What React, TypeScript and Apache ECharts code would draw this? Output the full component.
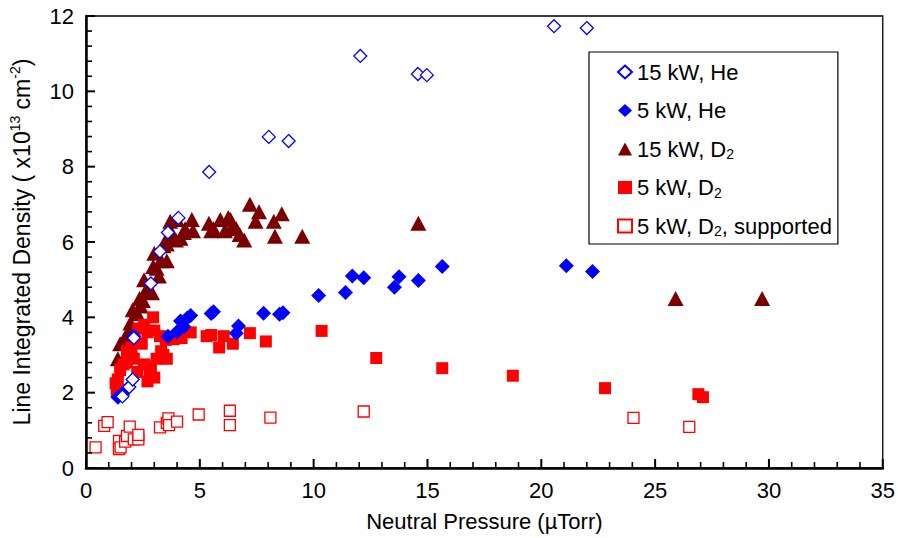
import React, { useEffect, useRef } from "react";
import * as echarts from "echarts";

const xTicks = { min: 0, max: 35, interval: 5, minorSplit: 5 };
const yTicks = { min: 0, max: 12, interval: 2, minorSplit: 5 };

const seriesNames = [
  "15 kW, He",
  "5 kW, He",
  "15 kW, D2",
  "5 kW, D2",
  "5 kW, D2, supported",
];

const he15: number[][] = [
  [1.6, 1.9], [1.9, 2.15], [2.05, 2.35], [2.1, 3.45], [2.85, 4.9], [3.25, 5.75],
  [3.6, 6.25], [4.06, 6.64], [5.41, 7.86], [8.03, 8.79], [8.9, 8.68], [12.05, 10.94],
  [14.58, 10.46], [14.97, 10.43], [20.56, 11.73], [22.0, 11.68],
];

const he5: number[][] = [
  [1.4, 1.88], [1.6, 1.95], [1.8, 2.1], [2.1, 3.5], [3.6, 3.5], [4.0, 3.62],
  [4.15, 3.9], [4.3, 3.75], [4.45, 3.98], [4.6, 4.05], [5.5, 4.1], [5.6, 4.15],
  [6.6, 3.58], [6.7, 3.77], [7.8, 4.11], [8.5, 4.08], [8.65, 4.12], [10.22, 4.58],
  [11.4, 4.66], [11.7, 5.1], [12.2, 5.05], [13.55, 4.8], [13.75, 5.08], [14.6, 4.98],
  [15.65, 5.35], [21.1, 5.37], [22.25, 5.22],
];

const d15: number[][] = [
  [1.4, 2.9], [1.5, 3.3], [1.7, 3.45], [1.8, 3.4], [1.9, 3.65], [1.95, 3.85],
  [2.05, 4.2], [2.25, 4.1], [2.4, 4.3], [2.35, 4.5], [2.5, 4.45], [2.55, 5.0],
  [2.7, 4.8], [2.75, 4.7], [2.9, 4.65], [2.95, 5.35], [3.0, 5.7], [3.1, 5.3],
  [3.2, 5.1], [3.3, 5.5], [3.4, 5.9], [3.55, 5.5], [3.55, 5.95], [3.55, 6.1],
  [3.7, 6.55], [3.75, 6.25], [3.95, 6.05], [4.0, 6.6], [4.15, 6.1], [4.3, 6.25],
  [4.35, 6.35], [4.65, 6.6], [4.7, 6.3], [5.4, 6.5], [5.5, 6.3], [5.6, 6.35],
  [5.9, 6.6], [6.1, 6.3], [6.25, 6.65], [6.35, 6.6], [6.4, 6.4], [6.6, 6.35],
  [6.75, 6.2], [6.95, 6.05], [7.2, 7.0], [7.45, 6.55], [7.6, 6.8], [8.25, 6.55],
  [8.3, 6.15], [8.6, 6.75], [9.5, 6.15], [14.6, 6.5], [25.9, 4.5], [29.7, 4.5],
];

const d5: number[][] = [
  [1.3, 2.25], [1.35, 2.05], [1.4, 2.35], [1.5, 2.6], [1.65, 2.75], [1.8, 2.8],
  [1.8, 3.1], [2.0, 3.2], [2.1, 2.9], [2.25, 2.55], [2.3, 3.7], [2.45, 3.3],
  [2.55, 2.75], [2.55, 3.8], [2.7, 3.6], [2.7, 2.3], [2.8, 2.6], [2.85, 2.7],
  [2.95, 4.0], [3.0, 3.65], [3.0, 2.4], [3.1, 2.9], [3.25, 3.5], [3.3, 3.1],
  [3.4, 3.0], [3.5, 3.4], [3.55, 2.9], [3.85, 3.42], [4.05, 3.45], [4.2, 3.45],
  [4.6, 3.6], [5.3, 3.5], [5.5, 3.53], [5.85, 3.2], [6.05, 3.5], [6.45, 3.3],
  [7.2, 3.58], [7.9, 3.36], [10.35, 3.64], [12.75, 2.92], [15.65, 2.65], [18.75, 2.45],
  [22.8, 2.12], [26.9, 1.96], [27.1, 1.88],
];

const d5sup: number[][] = [
  [0.42, 0.55], [0.8, 1.12], [0.95, 1.22], [1.45, 0.72], [1.45, 0.5], [1.52, 0.55],
  [1.72, 0.7], [1.8, 0.85], [1.92, 1.1], [2.1, 0.76], [2.3, 0.76], [2.3, 0.88],
  [3.25, 1.08], [3.55, 1.2], [3.62, 1.32], [3.65, 1.14], [4.0, 1.23], [4.95, 1.42],
  [6.32, 1.52], [6.32, 1.14], [8.1, 1.34], [12.2, 1.5], [24.05, 1.33], [26.5, 1.09],
];

const FONT = "Liberation Sans";

function tickList(t: { min: number; max: number; interval: number; minorSplit: number }) {
  const out: { v: number; major: boolean }[] = [];
  const step = t.interval / t.minorSplit;
  const n = Math.round((t.max - t.min) / step);
  for (let i = 0; i <= n; i++) {
    out.push({ v: t.min + i * step, major: i % t.minorSplit === 0 });
  }
  return out;
}

export default function App() {
  const ref = useRef<HTMLDivElement>(null);
  useEffect(() => {
    if (!ref.current) return;
    const chart = echarts.init(ref.current, undefined, { renderer: "svg" });
    const axisLine = { show: true, onZero: false, lineStyle: { color: "#000", width: 2.5 } };
    const labelStyle = { color: "#000", fontSize: 22, fontFamily: FONT };

    const xTickData = tickList(xTicks).map((t) => [t.v, yTicks.min, t.major ? 1 : 0]);
    const yTickData = tickList(yTicks).map((t) => [xTicks.min, t.v, t.major ? 1 : 0]);

    chart.setOption({
      animation: false,
      backgroundColor: "#fff",
      grid: {
        left: 82, right: 14, top: 16, bottom: 70,
        show: true, borderColor: "#000", borderWidth: 1.3,
      },
      xAxis: {
        type: "value",
        min: xTicks.min, max: xTicks.max, interval: xTicks.interval,
        axisLine,
        axisTick: { show: false },
        splitLine: { show: false },
        axisLabel: { ...labelStyle, margin: 11 },
        name: "Neutral Pressure (µTorr)",
        nameLocation: "middle",
        nameGap: 42,
        nameTextStyle: { color: "#000", fontSize: 22, fontFamily: FONT },
      },
      yAxis: {
        type: "value",
        min: yTicks.min, max: yTicks.max, interval: yTicks.interval,
        axisLine,
        axisTick: { show: false },
        splitLine: { show: false },
        axisLabel: { ...labelStyle, margin: 12 },
        name: "Line Integrated Density ( x10{sup|13} cm{sup|-2})",
        nameLocation: "middle",
        nameGap: 50,
        nameTextStyle: {
          color: "#000", fontSize: 23, fontFamily: FONT, lineHeight: 28,
          rich: {
            sup: { fontSize: 14, fontFamily: FONT, color: "#000", verticalAlign: "top", lineHeight: 28, padding: [0, 0, 10, 0] },
          },
        },
      },
      legend: {
        orient: "vertical",
        left: 589,
        top: 52,
        data: seriesNames,
        backgroundColor: "#fff",
        borderColor: "#000",
        borderWidth: 1.2,
        padding: [8, 6, 6, 28],
        itemGap: 14.5,
        itemWidth: 14,
        itemHeight: 13,
        itemTextGap: 4,
        formatter: (name: string) => name.replace("D2", "D{sub|2}"),
        textStyle: {
          color: "#000",
          fontSize: 22,
          fontFamily: FONT,
          lineHeight: 24,
          rich: {
            sub: { fontSize: 14, fontFamily: FONT, color: "#000", verticalAlign: "bottom", lineHeight: 24, padding: [10, 0, 0, 0] },
          },
        },
      },
      series: [
        {
          type: "custom", name: "xticks", silent: true, clip: false, z: 5,
          data: xTickData,
          encode: { x: 0, y: 1 },
          renderItem: (_p: any, api: any) => {
            const pt = api.coord([api.value(0), api.value(1)]);
            const major = api.value(2) === 1;
            return {
              type: "line",
              shape: { x1: pt[0], y1: pt[1], x2: pt[0], y2: pt[1] - (major ? 9 : 6) },
              style: { stroke: "#000", lineWidth: major ? 2 : 1.6 },
            };
          },
        },
        {
          type: "custom", name: "yticks", silent: true, clip: false, z: 5,
          data: yTickData,
          encode: { x: 0, y: 1 },
          renderItem: (_p: any, api: any) => {
            const pt = api.coord([api.value(0), api.value(1)]);
            const major = api.value(2) === 1;
            return {
              type: "line",
              shape: { x1: pt[0], y1: pt[1], x2: pt[0] + (major ? 9 : 6), y2: pt[1] },
              style: { stroke: "#000", lineWidth: major ? 2 : 1.6 },
            };
          },
        },
        {
          name: seriesNames[4], type: "scatter", data: d5sup, symbol: "rect", symbolSize: 11,
          itemStyle: { color: "#fff", borderColor: "#ff0000", borderWidth: 1.3, opacity: 1 },
        },
        {
          name: seriesNames[2], type: "scatter", data: d15, symbol: "triangle", symbolSize: [16, 15],
          itemStyle: { color: "#7a0000", opacity: 1 },
        },
        {
          name: seriesNames[3], type: "scatter", data: d5, symbol: "rect", symbolSize: 12,
          itemStyle: { color: "#ff0000", opacity: 1 },
        },
        {
          name: seriesNames[1], type: "scatter", data: he5, symbol: "diamond", symbolSize: [15, 15],
          itemStyle: { color: "#0000ff", opacity: 1 },
        },
        {
          name: seriesNames[0], type: "scatter", data: he15, symbol: "diamond", symbolSize: [13, 13],
          itemStyle: { color: "#fff", borderColor: "#0000ff", borderWidth: 1.3, opacity: 1 },
        },
      ],
    });
    return () => chart.dispose();
  }, []);
  return (
    <div
      ref={ref}
      style={{ position: "fixed", left: 0, top: 0, width: 898, height: 538, background: "#fff" }}
    />
  );
}
